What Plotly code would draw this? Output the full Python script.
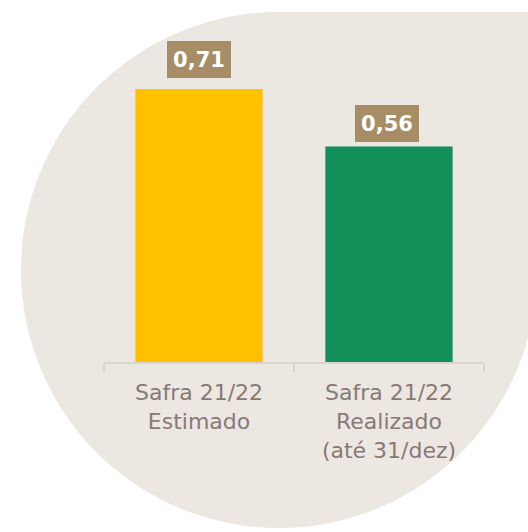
import numpy as np
import plotly.graph_objects as go

# ---- data ----
categories = ["Safra 21/22<br>Estimado", "Safra 21/22<br>Realizado<br>(até 31/dez)"]
values = [0.71, 0.56]
bar_colors = ["#FFC000", "#138F5A"]
value_labels = [f"{v:.2f}".replace(".", ",") for v in values]

W, H = 528, 532

def px_to_paper(x, y):
    return x / W, 1 - y / H

# decorative background: circle with squared top-right quadrant (page pixel geometry)
cx, cy, r = 279, 270, 258
pts = [(cx, cy - r), (cx + r + 10, cy - r), (cx + r + 10, cy)]
for t in np.linspace(0, 1.5 * np.pi, 200):
    pts.append((cx + r * np.cos(t), cy + r * np.sin(t)))
path = ""
for i, (x, y) in enumerate(pts):
    px, py = px_to_paper(x, y)
    path += ("M" if i == 0 else "L") + f"{px:.5f},{py:.5f} "
path += "Z"

fig = go.Figure()
fig.add_trace(go.Bar(
    x=categories, y=values, marker=dict(color=bar_colors, line=dict(width=0)),
    hoverinfo="skip", showlegend=False,
))

yshifts = [11, 5]
xshifts = [0, -2]
for c, v, lab, ys, xs in zip(categories, values, value_labels, yshifts, xshifts):
    fig.add_annotation(
        x=c, y=v, text=f"<b>{lab}</b>", showarrow=False, yanchor="bottom",
        yshift=ys, xshift=xs, bgcolor="#A68D66", borderwidth=0, borderpad=5,
        width=54, height=27, align="center", valign="middle",
        font=dict(family="DejaVu Sans", size=21, color="white"),
    )

x0, _ = px_to_paper(104, 0)
x1, _ = px_to_paper(484, 0)
_, yb = px_to_paper(0, 362)
_, yt = px_to_paper(0, 12)

fig.update_layout(
    width=W, height=H,
    margin=dict(l=0, r=0, t=0, b=0),
    paper_bgcolor="white", plot_bgcolor="rgba(0,0,0,0)",
    bargap=0.33,
    shapes=[dict(type="path", path=path, xref="paper", yref="paper",
                 fillcolor="#ECE7E1", line=dict(width=0), layer="below")],
    xaxis=dict(
        domain=[x0, x1],
        showline=True, linecolor="#D9D4CE", linewidth=2,
        ticks="outside", tickson="boundaries", ticklen=8, tickwidth=2,
        tickcolor="#D9D4CE", showgrid=False, zeroline=False,
        ticklabelstandoff=10,
        tickfont=dict(family="DejaVu Sans", size=22, color="#877a76"),
        fixedrange=True,
    ),
    yaxis=dict(
        domain=[yb, yt], range=[0, 0.91], visible=False,
        fixedrange=True,
    ),
)

fig.write_html(
    "out.html",
    config={"displayModeBar": False, "staticPlot": True},
    post_script="document.body.style.margin='0';document.body.style.overflow='hidden';",
)
